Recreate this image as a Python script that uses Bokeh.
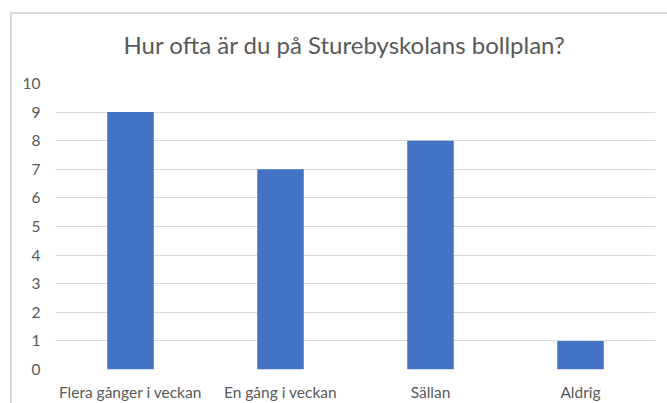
from bokeh.plotting import figure
from bokeh.models import Range1d, FixedTicker
from bokeh.embed import file_html
from bokeh.resources import INLINE

categories = ["Flera gånger i veckan", "En gång i veckan", "Sällan", "Aldrig"]
counts = [9, 7, 8, 1]
y_ticks = [0, 1, 2, 3, 4, 5, 6, 7, 8, 9, 10]
title_text = "Hur ofta är du på Sturebyskolans bollplan?"

FONT = "Lato"
TXT = "#595959"
GRID = "#d9d9d9"
W, H = 667, 403

p = figure(x_range=categories, y_range=Range1d(0, 10),
           width=W, height=H, output_backend="svg", toolbar_location=None,
           min_border_left=55, min_border_right=12, min_border_top=83, min_border_bottom=33)
# chart-area border: only its left and top edges fall inside the picture;
# drawn as the host background, visible through the transparent border fill
p.styles = {
    "background-color": "white",
    "background-image": "linear-gradient(#d9d9d9, #d9d9d9), linear-gradient(#d9d9d9, #d9d9d9)",
    "background-size": "2px 100%, 100% 2px",
    "background-position": "10px 12px, 10px 12px",
    "background-repeat": "no-repeat",
}

p.vbar(x=categories, top=counts, width=0.31, color="#4472C4", line_color=None)

p.title.text = title_text
p.title.align = "left"
p.title.offset = 68
p.title.standoff = 49
p.title.text_font = FONT
p.title.text_font_size = "24px"
p.title.text_font_style = "normal"
p.title.text_color = TXT

p.outline_line_color = None
p.background_fill_color = "white"
p.border_fill_color = None

p.xgrid.grid_line_color = None
p.ygrid.grid_line_color = GRID
p.ygrid.grid_line_width = 1

p.yaxis.ticker = FixedTicker(ticks=y_ticks)
for ax in (p.xaxis[0], p.yaxis[0]):
    ax.axis_line_color = None
    ax.major_tick_line_color = None
    ax.minor_tick_line_color = None
    ax.major_tick_out = 0
    ax.major_tick_in = 0
    ax.major_label_text_font = FONT
    ax.major_label_text_font_size = "15.5px"
    ax.major_label_text_color = TXT
p.yaxis.major_label_standoff = 15
p.xaxis.major_label_standoff = 13

open("out.html", "w").write(file_html(p, INLINE))
